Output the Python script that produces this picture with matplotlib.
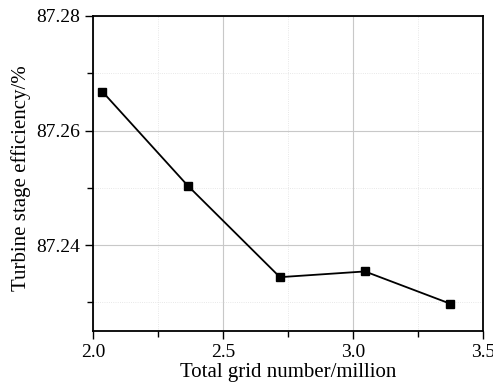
import matplotlib
matplotlib.use("Agg")
import matplotlib.pyplot as plt
from matplotlib.ticker import MultipleLocator, FormatStrFormatter

# grid size (million cells) vs. turbine stage efficiency
grid_million = [2.036, 2.364, 2.719, 3.046, 3.372]
efficiency = [87.2668, 87.2504, 87.2344, 87.2354, 87.2298]

plt.rcParams['font.family'] = ['Liberation Serif', 'DejaVu Serif']

fig = plt.figure(figsize=(4.93, 3.88), dpi=100)
ax = fig.add_axes([0.1886, 0.1469, 0.7911, 0.8119])

ax.plot(grid_million, efficiency, color='black', linewidth=1.3,
        marker='s', markersize=5.5, markerfacecolor='black', zorder=3)

ax.set_xlim(2.0, 3.5)
ax.set_ylim(87.225, 87.28)
ax.xaxis.set_major_locator(MultipleLocator(0.5))
ax.xaxis.set_minor_locator(MultipleLocator(0.25))
ax.yaxis.set_major_locator(MultipleLocator(0.02))
ax.yaxis.set_minor_locator(MultipleLocator(0.01))
ax.xaxis.set_major_formatter(FormatStrFormatter('%.1f'))
ax.yaxis.set_major_formatter(FormatStrFormatter('%.2f'))

ax.grid(which='major', color='#c8c8c8', linewidth=0.8, linestyle='-')
ax.grid(which='minor', color='#e0e0e0', linewidth=0.6, linestyle=':')
ax.set_axisbelow(True)

ax.tick_params(which='both', direction='out', top=False, right=False,
               labelsize=14, width=1.0)
ax.tick_params(which='major', length=6)
ax.tick_params(which='minor', length=4)
for sp in ax.spines.values():
    sp.set_linewidth(1.3)

ax.set_xlabel('Total grid number/million', fontsize=15, labelpad=1)
ax.set_ylabel('Turbine stage efficiency/%', fontsize=15)
ax.yaxis.set_label_coords(-0.16, 0.486)

fig.savefig('out.png', dpi=100)
